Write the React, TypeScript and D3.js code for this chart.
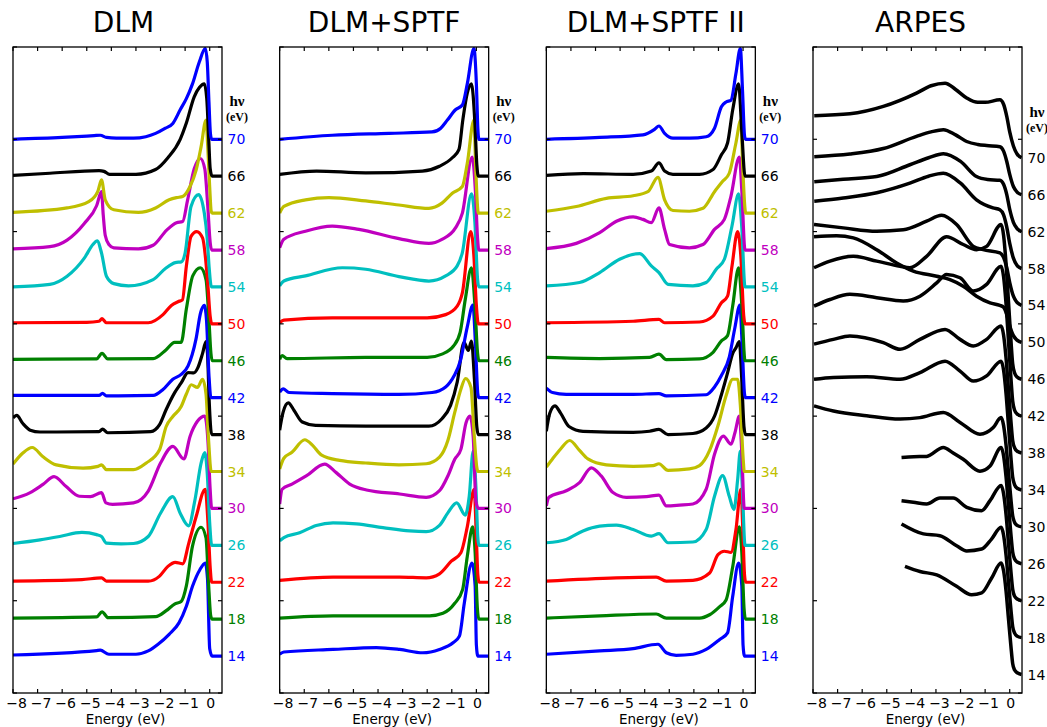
import { scaleLinear, line, curveMonotoneX } from "d3";

type Pt = [number, number];

// photon energies, top curve first
const HV = [70, 66, 62, 58, 54, 50, 46, 42, 38, 34, 30, 26, 22, 18, 14];
const CURVE_COLORS = [
  "#0000ff", "#000000", "#bfbf00", "#bf00bf", "#00bfbf", "#ff0000", "#008000",
  "#0000ff", "#000000", "#bfbf00", "#bf00bf", "#00bfbf", "#ff0000", "#008000", "#0000ff",
];
const SIM_OFFSETS = [15, 14, 13, 12, 11, 10, 9, 8, 7, 6, 5, 4, 3, 2, 1];
const ARPES_OFFSETS = [14.5, 13.5, 12.5, 11.5, 10.5, 9.5, 8.5, 7.5, 6.5, 5.5, 4.5, 3.5, 2.5, 1.5, 0.5];
const X_TICKS = [-8, -7, -6, -5, -4, -3, -2, -1, 0];
const Y_TICKS = [0, 2.5, 5, 7.5, 10, 12.5, 15, 17.5];
const TITLES = ["DLM", "DLM+SPTF", "DLM+SPTF II", "ARPES"];

// ---------- DLM ----------
const DLM_70: Pt[] = [[-8,0],[-6,0.05],[-4.7,0.1],[-4.45,0.11],[-4.2,0.05],[-3.8,0.03],[-3.1,0.03],[-2.6,0.07],[-2.2,0.16],[-1.8,0.3],[-1.5,0.43],[-1.2,0.8],[-0.95,1.1],[-0.7,1.5],[-0.42,2.1],[-0.18,2.46],[-0.1,2.1],[-0.03,1.0],[0.03,0.15],[0.08,0],[0.5,0]];
const DLM_66: Pt[] = [[-8,0.02],[-6.5,0.08],[-4.5,0.15],[-4.3,0.13],[-4.07,0.05],[-3,0.05],[-2.2,0.18],[-1.7,0.5],[-1.2,1.0],[-0.95,1.44],[-0.63,2.15],[-0.42,2.4],[-0.22,2.5],[-0.12,2.1],[-0.04,1.0],[0.02,0.2],[0.1,0],[0.5,0]];
const DLM_62: Pt[] = [[-8,0.02],[-5.8,0.14],[-4.9,0.32],[-4.55,0.59],[-4.4,0.9],[-4.25,0.36],[-3.9,0.09],[-2.9,0.02],[-2.2,0.14],[-1.65,0.36],[-1.35,0.42],[-1.1,0.45],[-0.8,0.72],[-0.55,1.17],[-0.35,1.8],[-0.15,2.52],[-0.08,1.8],[0.0,0.7],[0.06,0.05],[0.1,0],[0.5,0]];
const DLM_58: Pt[] = [[-8,0.03],[-6.5,0.09],[-5.8,0.27],[-5.1,0.72],[-4.6,1.2],[-4.4,1.58],[-4.33,0.95],[-4.25,0.4],[-4.1,0.15],[-3.9,0.06],[-2.9,0.03],[-2.3,0.13],[-1.75,0.54],[-1.35,0.74],[-1.1,0.77],[-0.9,1.35],[-0.63,2.2],[-0.38,2.48],[-0.2,2.2],[-0.08,1.2],[0.02,0.2],[0.08,0],[0.5,0]];
const DLM_54: Pt[] = [[-8,0],[-6.5,0.07],[-5.8,0.29],[-5.1,0.78],[-4.75,1.15],[-4.58,1.25],[-4.4,0.92],[-4.2,0.29],[-3.9,0.09],[-3.3,0.03],[-2.3,0.2],[-1.8,0.5],[-1.4,0.66],[-1.15,0.68],[-1.0,0.92],[-0.76,2.18],[-0.45,2.5],[-0.22,2.0],[-0.1,1.3],[-0.02,0.5],[0.07,0],[0.5,0]];
const DLM_50: Pt[] = [[-8,0.03],[-5,0.04],[-4.5,0.07],[-4.38,0.14],[-4.2,0.03],[-2.5,0.03],[-1.9,0.25],[-1.56,0.5],[-1.29,0.6],[-1.11,0.65],[-0.95,1.56],[-0.76,2.37],[-0.53,2.5],[-0.29,2.33],[-0.09,1.2],[0.02,0.2],[0.08,0],[0.5,0]];
const DLM_46: Pt[] = [[-8,0.04],[-4.6,0.05],[-4.38,0.2],[-4.15,0.05],[-2.3,0.06],[-1.77,0.3],[-1.43,0.5],[-1.16,0.5],[-0.95,1.4],[-0.69,2.3],[-0.38,2.52],[-0.15,2.2],[-0.03,1.1],[0.05,0.2],[0.1,0],[0.5,0]];
const DLM_42: Pt[] = [[-8,0.06],[-4.5,0.06],[-4.36,0.12],[-4.2,0.05],[-2.3,0.06],[-1.9,0.22],[-1.5,0.5],[-1.16,0.63],[-0.88,0.86],[-0.56,1.58],[-0.37,2.3],[-0.22,2.5],[-0.13,2.1],[-0.03,0.6],[0.05,0],[0.5,0]];
const DLM_38: Pt[] = [[-8,0.45],[-7.85,0.52],[-7.6,0.3],[-7.3,0.12],[-6.9,0.07],[-4.5,0.08],[-4.36,0.15],[-4.15,0.05],[-2.4,0.08],[-2.04,0.27],[-1.77,0.68],[-1.43,1.13],[-1.16,1.4],[-0.88,1.68],[-0.65,1.67],[-0.49,1.8],[-0.29,2.2],[-0.15,2.52],[-0.09,2.2],[-0.02,0.9],[0.08,0],[0.5,0]];
const DLM_34: Pt[] = [[-8,0.2],[-7.6,0.5],[-7.22,0.65],[-6.78,0.4],[-6.24,0.18],[-5.15,0.09],[-4.54,0.14],[-4.4,0.18],[-4.2,0.05],[-3.1,0.05],[-2.58,0.23],[-2.04,0.59],[-1.77,1.22],[-1.5,1.49],[-1.16,1.76],[-0.95,2.1],[-0.75,2.35],[-0.5,2.28],[-0.29,2.5],[-0.15,2.1],[-0.05,0.9],[0.06,0],[0.5,0]];
const DLM_30: Pt[] = [[-8,0.26],[-7.32,0.42],[-6.78,0.65],[-6.33,0.86],[-5.85,0.6],[-5.3,0.33],[-4.85,0.32],[-4.4,0.43],[-4.22,0.15],[-3.95,0.11],[-3.1,0.15],[-2.5,0.47],[-2.0,1.23],[-1.5,1.68],[-1.05,1.34],[-0.8,1.95],[-0.5,2.36],[-0.2,2.5],[-0.07,1.8],[0.02,0.5],[0.08,0],[0.5,0]];
const DLM_26: Pt[] = [[-8,0.05],[-6.9,0.15],[-6.1,0.24],[-5.2,0.35],[-4.6,0.29],[-4.4,0.24],[-4.2,0.06],[-3.6,0.04],[-3.1,0.05],[-2.5,0.24],[-2.0,0.87],[-1.5,1.32],[-1.2,0.87],[-0.86,0.53],[-0.6,1.23],[-0.35,2.23],[-0.2,2.51],[-0.1,1.95],[0.0,0.6],[0.08,0],[0.5,0]];
const DLM_22: Pt[] = [[-8,0.03],[-5.2,0.07],[-4.4,0.12],[-4.2,0.03],[-2.5,0.03],[-2.05,0.16],[-1.7,0.43],[-1.4,0.54],[-1.1,0.5],[-0.85,1.06],[-0.55,1.78],[-0.18,2.52],[-0.07,1.6],[0.02,0.4],[0.08,0],[0.5,0]];
const DLM_18: Pt[] = [[-8,0.03],[-4.6,0.06],[-4.38,0.2],[-4.13,0.04],[-2.2,0.07],[-1.77,0.23],[-1.43,0.41],[-1.16,0.48],[-0.95,0.9],[-0.7,1.98],[-0.35,2.49],[-0.15,2.2],[-0.05,1.0],[0.04,0.1],[0.1,0],[0.5,0]];
const DLM_14: Pt[] = [[-8,0.03],[-4.6,0.15],[-4.45,0.16],[-4.1,0.05],[-3,0.05],[-2.5,0.14],[-2.1,0.32],[-1.65,0.59],[-1.25,0.9],[-0.95,1.35],[-0.7,1.89],[-0.4,2.34],[-0.18,2.52],[-0.09,2.1],[0.0,0.2],[0.1,0],[0.5,0]];

// ---------- DLM+SPTF ----------
const SPTF_70: Pt[] = [[-8,0],[-5.86,0.11],[-3.55,0.16],[-1.8,0.2],[-1.45,0.3],[-1.18,0.52],[-0.85,0.8],[-0.57,0.93],[-0.37,1.5],[-0.1,2.46],[0.0,1.5],[0.06,0.3],[0.1,0],[0.5,0]];
const SPTF_66: Pt[] = [[-8,0.05],[-6.5,0.14],[-4.5,0.09],[-2.2,0.14],[-1.5,0.27],[-0.98,0.5],[-0.71,0.72],[-0.55,1.53],[-0.37,2.25],[-0.2,2.5],[-0.06,1.44],[0.02,0.3],[0.08,0],[0.5,0]];
const SPTF_62: Pt[] = [[-8,0],[-7.83,0.18],[-6.95,0.36],[-6.0,0.42],[-4.5,0.33],[-3.15,0.22],[-1.93,0.13],[-1.4,0.27],[-0.98,0.54],[-0.57,0.72],[-0.37,1.35],[-0.1,2.52],[-0.02,1.1],[0.08,0],[0.5,0]];
const SPTF_58: Pt[] = [[-8,0.06],[-7.83,0.29],[-6.95,0.51],[-5.86,0.65],[-4.78,0.56],[-3.15,0.31],[-1.93,0.18],[-1.4,0.29],[-0.85,0.6],[-0.57,1.0],[-0.17,2.52],[-0.04,1.6],[0.05,0.3],[0.1,0],[0.5,0]];
const SPTF_54: Pt[] = [[-8,0.03],[-7.83,0.16],[-6.95,0.3],[-5.45,0.52],[-4.5,0.48],[-3.15,0.28],[-1.93,0.16],[-1.25,0.3],[-0.78,0.57],[-0.57,0.93],[-0.2,2.52],[-0.06,1.75],[0.05,0.2],[0.1,0],[0.5,0]];
const SPTF_50: Pt[] = [[-8,0.03],[-7.83,0.1],[-5.86,0.16],[-2,0.16],[-1.25,0.25],[-0.78,0.48],[-0.57,0.84],[-0.23,2.5],[-0.1,1.83],[0.0,0.5],[0.08,0],[0.5,0]];
const SPTF_46: Pt[] = [[-8,0.04],[-7.9,0.14],[-7.7,0.06],[-4.5,0.09],[-2,0.09],[-1.4,0.18],[-0.93,0.4],[-0.66,0.77],[-0.45,1.67],[-0.2,2.52],[-0.06,1.5],[0.05,0.2],[0.1,0],[0.5,0]];
const SPTF_42: Pt[] = [[-8,0.15],[-7.86,0.24],[-7.62,0.14],[-5.86,0.11],[-3.15,0.09],[-1.8,0.14],[-1.25,0.29],[-0.9,0.6],[-0.65,1.0],[-0.37,1.92],[-0.14,2.51],[-0.04,1.5],[0.06,0.1],[0.1,0],[0.5,0]];
const SPTF_38: Pt[] = [[-8,0.12],[-7.86,0.61],[-7.65,0.86],[-7.42,0.66],[-7.08,0.34],[-6.54,0.25],[-4.5,0.23],[-1.93,0.23],[-1.4,0.43],[-1.05,0.79],[-0.78,1.42],[-0.5,2.5],[-0.33,2.28],[-0.2,2.53],[-0.08,1.5],[0.02,0.2],[0.08,0],[0.5,0]];
const SPTF_34: Pt[] = [[-8,0.07],[-7.83,0.36],[-7.5,0.52],[-6.98,0.86],[-6.65,0.7],[-6.31,0.45],[-5.56,0.3],[-4.5,0.23],[-3.15,0.18],[-2.04,0.21],[-1.5,0.39],[-1.16,0.84],[-0.88,1.6],[-0.63,2.23],[-0.44,2.52],[-0.22,2.28],[-0.09,1.0],[0.02,0.1],[0.06,0],[0.5,0]];
const SPTF_30: Pt[] = [[-8,0.12],[-7.9,0.52],[-7.5,0.66],[-6.92,0.88],[-6.17,1.2],[-5.7,0.97],[-5.15,0.66],[-4.47,0.5],[-3.12,0.39],[-2.04,0.3],[-1.5,0.48],[-1.16,0.88],[-0.88,1.33],[-0.63,1.6],[-0.42,2.32],[-0.26,2.5],[-0.13,1.95],[-0.02,0.2],[0.08,0],[0.5,0]];
const SPTF_26: Pt[] = [[-8,0.12],[-7.83,0.21],[-7.19,0.34],[-6.51,0.54],[-5.83,0.61],[-4.88,0.58],[-3.8,0.48],[-2.72,0.39],[-2.04,0.37],[-1.5,0.54],[-1.16,0.88],[-0.8,1.15],[-0.45,0.82],[-0.29,1.33],[-0.13,2.55],[-0.02,1.6],[0.06,0.2],[0.1,0],[0.5,0]];
const SPTF_22: Pt[] = [[-8,0.05],[-5.83,0.14],[-3.12,0.14],[-2.04,0.12],[-1.5,0.23],[-1.02,0.57],[-0.63,0.8],[-0.37,1.5],[-0.09,2.52],[0.0,1.2],[0.06,0.2],[0.11,0],[0.5,0]];
const SPTF_18: Pt[] = [[-8,0.03],[-5.83,0.09],[-1.9,0.09],[-1.36,0.16],[-0.88,0.43],[-0.56,0.8],[-0.37,1.7],[-0.15,2.5],[-0.05,1.8],[0.04,0.3],[0.1,0],[0.5,0]];
const SPTF_14: Pt[] = [[-8,0.05],[-7.83,0.11],[-5.83,0.18],[-4.07,0.23],[-3.12,0.18],[-2.18,0.09],[-1.5,0.18],[-0.95,0.36],[-0.69,0.54],[-0.49,1.44],[-0.18,2.52],[-0.05,1.9],[0.0,0.3],[0.06,0],[0.5,0]];

// ---------- DLM+SPTF II ----------
const II_70: Pt[] = [[-8,0],[-5.83,0.05],[-4.07,0.12],[-3.6,0.27],[-3.42,0.36],[-3.19,0.16],[-2.85,0.03],[-2.18,0.03],[-1.5,0.07],[-1.16,0.3],[-0.88,0.88],[-0.69,1.01],[-0.49,1.06],[-0.29,1.78],[-0.11,2.46],[-0.02,1.3],[0.06,0.1],[0.1,0],[0.5,0]];
const II_66: Pt[] = [[-8,0.02],[-6.5,0.07],[-4.47,0.05],[-3.73,0.14],[-3.42,0.36],[-3.19,0.14],[-2.85,0.05],[-1.77,0.05],[-1.22,0.18],[-0.88,0.58],[-0.63,0.9],[-0.42,1.8],[-0.18,2.5],[-0.05,1.2],[0.08,0],[0.5,0]];
const II_62: Pt[] = [[-8,0.05],[-6.78,0.18],[-5.56,0.4],[-4.47,0.47],[-3.87,0.58],[-3.46,0.97],[-3.19,0.36],[-2.85,0.07],[-2.18,0.05],[-1.63,0.13],[-1.16,0.58],[-0.83,0.86],[-0.56,1.08],[-0.29,1.9],[-0.09,2.52],[-0.01,1.2],[0.11,0],[0.5,0]];
const II_58: Pt[] = [[-8,0.04],[-6.78,0.18],[-5.83,0.47],[-5.15,0.78],[-4.47,0.9],[-4.07,0.83],[-3.73,0.74],[-3.42,1.14],[-3.19,0.56],[-2.99,0.15],[-2.18,0.06],[-1.63,0.15],[-1.16,0.56],[-0.76,0.83],[-0.49,1.46],[-0.15,2.52],[-0.05,1.6],[0.08,0],[0.5,0]];
const II_54: Pt[] = [[-8,0.03],[-6.65,0.12],[-5.83,0.39],[-5.02,0.75],[-4.2,0.9],[-3.73,0.57],[-3.42,0.39],[-3.05,0.07],[-2.04,0.03],[-1.5,0.12],[-1.09,0.48],[-0.76,0.75],[-0.45,1.65],[-0.18,2.52],[-0.05,1.6],[0.08,0],[0.5,0]];
const II_50: Pt[] = [[-8,0.03],[-4.47,0.07],[-3.42,0.12],[-3.19,0.03],[-1.77,0.05],[-1.22,0.21],[-0.88,0.57],[-0.63,0.75],[-0.45,1.56],[-0.22,2.5],[-0.09,1.83],[0.03,0.2],[0.08,0],[0.5,0]];
const II_46: Pt[] = [[-8,0.09],[-5.83,0.06],[-3.8,0.09],[-3.42,0.18],[-3.12,0.03],[-1.77,0.05],[-1.22,0.23],[-0.88,0.54],[-0.63,0.68],[-0.42,1.49],[-0.18,2.52],[-0.05,1.5],[0.08,0],[0.5,0]];
const II_42: Pt[] = [[-8,0.26],[-7.75,0.14],[-7.19,0.09],[-4.47,0.09],[-3.42,0.11],[-3.12,0.05],[-1.5,0.08],[-1.16,0.29],[-0.88,0.6],[-0.56,1.1],[-0.33,1.9],[-0.13,2.51],[-0.04,1.5],[0.06,0.1],[0.1,0],[0.5,0]];
const II_38: Pt[] = [[-8,0.09],[-7.86,0.58],[-7.65,0.78],[-7.42,0.58],[-7.08,0.22],[-6.51,0.09],[-4.47,0.06],[-3.8,0.09],[-3.42,0.14],[-3.05,0.0],[-2.04,0.03],[-1.5,0.18],[-1.16,0.5],[-0.88,1.08],[-0.63,1.67],[-0.42,2.2],[-0.29,2.35],[-0.15,2.52],[-0.06,1.6],[0.04,0.2],[0.1,0],[0.5,0]];
const II_34: Pt[] = [[-8,0.12],[-7.75,0.34],[-7.42,0.61],[-7.05,0.84],[-6.65,0.57],[-6.31,0.34],[-5.56,0.18],[-4.47,0.14],[-3.66,0.16],[-3.42,0.21],[-3.05,0.03],[-2.18,0.07],[-1.77,0.16],[-1.36,0.57],[-1.02,1.24],[-0.69,2.05],[-0.42,2.5],[-0.22,2.5],[-0.11,1.8],[0.0,0.4],[0.05,0],[0.5,0]];
const II_30: Pt[] = [[-8,0.07],[-7.9,0.3],[-7.19,0.48],[-6.65,0.7],[-6.17,1.1],[-5.77,0.88],[-5.29,0.43],[-4.75,0.3],[-3.93,0.32],[-3.42,0.36],[-3.12,0.07],[-2.58,0.09],[-2.04,0.12],[-1.5,0.52],[-1.16,1.47],[-0.8,1.96],[-0.49,1.74],[-0.33,2.05],[-0.15,2.5],[-0.05,1.5],[0.05,0],[0.5,0]];
const II_26: Pt[] = [[-8,0.07],[-7.19,0.16],[-6.51,0.39],[-5.83,0.52],[-5.15,0.55],[-4.47,0.43],[-3.73,0.25],[-3.42,0.32],[-3.05,0.07],[-2.04,0.09],[-1.5,0.43],[-1.16,1.33],[-0.83,1.89],[-0.56,1.33],[-0.37,0.97],[-0.22,1.78],[-0.11,2.55],[-0.02,1.4],[0.08,0],[0.5,0]];
const II_22: Pt[] = [[-8,0.03],[-5.15,0.12],[-3.53,0.14],[-3.12,0.03],[-2.04,0.05],[-1.36,0.25],[-1.02,0.75],[-0.76,0.84],[-0.49,0.81],[-0.29,1.42],[-0.09,2.52],[0.0,1.25],[0.06,0.2],[0.11,0],[0.5,0]];
const II_18: Pt[] = [[-8,0.03],[-5.83,0.09],[-3.53,0.14],[-3.12,0.03],[-1.77,0.03],[-1.36,0.12],[-0.95,0.34],[-0.69,0.52],[-0.42,1.42],[-0.15,2.5],[-0.05,1.8],[0.04,0.3],[0.1,0],[0.5,0]];
const II_14: Pt[] = [[-8,0.05],[-5.83,0.14],[-4.47,0.2],[-3.46,0.32],[-3.12,0.09],[-2.72,0.02],[-2.04,0.05],[-1.5,0.18],[-0.95,0.45],[-0.63,0.63],[-0.42,1.62],[-0.18,2.52],[-0.05,1.9],[0.0,0.3],[0.06,0],[0.5,0]];

// ---------- ARPES (relative to the value at 0.5 eV) ----------
const ARPES_70: Pt[] = [[-7.95,1.14],[-6.5,1.19],[-5.14,1.39],[-3.79,1.75],[-3.2,1.95],[-2.63,2.02],[-2.2,1.85],[-1.75,1.62],[-1.3,1.5],[-1.0,1.5],[-0.4,1.57],[-0.25,1.45],[-0.12,1.12],[0.0,0.7],[0.15,0.32],[0.3,0.1],[0.48,0]];
const ARPES_66: Pt[] = [[-7.95,1.03],[-6.5,1.1],[-5.14,1.25],[-3.79,1.58],[-3.2,1.7],[-2.7,1.76],[-2.2,1.62],[-1.75,1.44],[-1.3,1.36],[-0.94,1.33],[-0.4,1.3],[-0.25,1.18],[-0.12,0.9],[0.0,0.55],[0.15,0.22],[0.3,0.07],[0.48,0]];
const ARPES_62: Pt[] = [[-7.95,1.35],[-6.77,1.42],[-5.41,1.49],[-4.06,1.81],[-3.3,2.0],[-2.7,2.11],[-2.0,1.9],[-1.35,1.49],[-0.9,1.41],[-0.4,1.39],[-0.25,1.28],[-0.12,1.0],[0.0,0.6],[0.15,0.25],[0.3,0.08],[0.48,0]];
const ARPES_58: Pt[] = [[-7.95,1.82],[-6.77,1.91],[-5.41,2.05],[-4.06,2.31],[-3.3,2.5],[-2.7,2.58],[-2.0,2.31],[-1.35,1.86],[-0.68,1.64],[-0.4,1.59],[-0.25,1.45],[-0.12,1.12],[0.0,0.68],[0.15,0.28],[0.3,0.08],[0.48,0]];
const ARPES_54: Pt[] = [[-7.96,2.19],[-6.77,2.1],[-5.41,2.01],[-4.33,2.05],[-3.38,2.28],[-2.77,2.44],[-2.16,2.19],[-1.48,1.6],[-1.08,1.51],[-0.4,1.42],[-0.25,1.3],[-0.12,1.02],[0.0,0.62],[0.15,0.25],[0.3,0.08],[0.48,0]];
const ARPES_50: Pt[] = [[-7.96,2.86],[-7.04,2.89],[-6.36,2.83],[-5.41,2.51],[-4.6,2.15],[-3.92,1.93],[-2.97,1.79],[-2.43,1.7],[-1.89,1.52],[-1.35,1.25],[-0.8,1.07],[-0.4,1.0],[-0.25,0.95],[-0.12,0.75],[0.0,0.45],[0.15,0.18],[0.3,0.06],[0.48,0]];
const ARPES_46: Pt[] = [[-7.96,3.02],[-7.31,3.2],[-6.36,3.33],[-5.41,3.2],[-4.46,3.06],[-4.06,3.02],[-3.38,3.33],[-2.57,3.86],[-1.89,3.65],[-1.35,3.51],[-0.94,3.6],[-0.35,4.19],[-0.25,3.9],[-0.15,3.14],[-0.05,2.1],[0.05,1.05],[0.12,0.42],[0.2,0.17],[0.3,0.06],[0.48,0]];
const ARPES_42: Pt[] = [[-7.96,2.98],[-7.31,3.16],[-6.5,3.3],[-5.41,3.21],[-4.33,3.12],[-3.65,3.25],[-2.97,3.61],[-2.57,3.84],[-2.02,3.75],[-1.48,3.39],[-0.94,3.57],[-0.35,4.06],[-0.25,3.78],[-0.15,3.05],[-0.05,2.03],[0.05,1.02],[0.12,0.41],[0.2,0.16],[0.3,0.06],[0.48,0]];
const ARPES_38: Pt[] = [[-7.96,2.95],[-7.17,3.08],[-6.5,3.17],[-5.14,2.99],[-4.46,2.81],[-3.65,3.08],[-2.63,3.35],[-2.02,3.08],[-1.48,2.9],[-0.94,3.08],[-0.35,3.44],[-0.25,3.2],[-0.15,2.58],[-0.05,1.72],[0.05,0.86],[0.12,0.34],[0.2,0.14],[0.3,0.05],[0.48,0]];
const ARPES_34: Pt[] = [[-7.96,3.0],[-7.17,3.05],[-5.82,3.07],[-4.46,3.0],[-3.65,3.18],[-2.63,3.49],[-2.02,3.22],[-1.48,2.95],[-0.94,3.09],[-0.35,3.49],[-0.25,3.25],[-0.15,2.62],[-0.05,1.75],[0.05,0.87],[0.12,0.35],[0.2,0.14],[0.3,0.05],[0.48,0]];
const ARPES_30: Pt[] = [[-7.96,3.28],[-7.17,3.14],[-5.82,3.01],[-4.46,2.92],[-3.65,2.96],[-2.7,3.1],[-2.02,2.83],[-1.21,2.51],[-0.67,2.69],[-0.35,2.96],[-0.25,2.75],[-0.15,2.22],[-0.05,1.48],[0.05,0.74],[0.12,0.3],[0.2,0.12],[0.3,0.04],[0.48,0]];
const ARPES_26: Pt[] = [[-4.4,2.88],[-3.9,2.9],[-3.38,2.91],[-2.7,3.15],[-2.3,3.0],[-1.89,2.83],[-1.21,2.51],[-0.8,2.65],[-0.35,3.15],[-0.25,2.93],[-0.15,2.36],[-0.05,1.58],[0.05,0.79],[0.12,0.32],[0.2,0.13],[0.3,0.05],[0.48,0]];
const ARPES_22: Pt[] = [[-4.4,2.71],[-3.92,2.67],[-3.38,2.62],[-2.84,2.78],[-2.3,2.78],[-1.75,2.53],[-1.14,2.44],[-0.8,2.71],[-0.35,3.12],[-0.25,2.9],[-0.15,2.34],[-0.05,1.56],[0.05,0.78],[0.12,0.31],[0.2,0.12],[0.3,0.05],[0.48,0]];
const ARPES_18: Pt[] = [[-4.4,3.08],[-3.51,2.81],[-2.84,2.76],[-2.16,2.49],[-1.75,2.35],[-1.14,2.4],[-0.74,2.67],[-0.35,2.99],[-0.25,2.78],[-0.15,2.24],[-0.05,1.5],[0.05,0.75],[0.12,0.3],[0.2,0.12],[0.3,0.04],[0.48,0]];
const ARPES_14: Pt[] = [[-4.26,2.93],[-3.65,2.79],[-2.97,2.7],[-2.16,2.39],[-1.55,2.16],[-1.14,2.21],[-0.74,2.61],[-0.35,3.02],[-0.25,2.81],[-0.15,2.27],[-0.05,1.51],[0.05,0.76],[0.12,0.3],[0.2,0.12],[0.3,0.05],[0.48,0]];

const DLM = [DLM_70, DLM_66, DLM_62, DLM_58, DLM_54, DLM_50, DLM_46, DLM_42, DLM_38, DLM_34, DLM_30, DLM_26, DLM_22, DLM_18, DLM_14];
const SPTF = [SPTF_70, SPTF_66, SPTF_62, SPTF_58, SPTF_54, SPTF_50, SPTF_46, SPTF_42, SPTF_38, SPTF_34, SPTF_30, SPTF_26, SPTF_22, SPTF_18, SPTF_14];
const SPTF_II = [II_70, II_66, II_62, II_58, II_54, II_50, II_46, II_42, II_38, II_34, II_30, II_26, II_22, II_18, II_14];
const ARPES = [ARPES_70, ARPES_66, ARPES_62, ARPES_58, ARPES_54, ARPES_50, ARPES_46, ARPES_42, ARPES_38, ARPES_34, ARPES_30, ARPES_26, ARPES_22, ARPES_18, ARPES_14];

const W = 1047;
const H = 727;
const PANEL_W = 209;
const TOP = 47;
const BOTTOM = 693;
const FONT = "'DejaVu Sans', sans-serif";
const SERIF = "'Liberation Serif', 'DejaVu Serif', serif";

const fmtTick = (d: number) => (d < 0 ? `\u2212${Math.abs(d)}` : `${d}`);

interface PanelProps {
  index: number;
  title: string;
  titleShift: number;
  series: Pt[][];
  offsets: number[];
  colors: string[];
  labelColors: string[];
  hvY: number;
  lineWidth: number;
}

function Panel({ index, title, titleShift, series, offsets, colors, labelColors, hvY, lineWidth }: PanelProps) {
  const left = 13 + index * 266.67;
  const right = left + PANEL_W;
  const x = scaleLinear().domain([-8, 0.5]).range([left, right]);
  const y = scaleLinear().domain([0, 17.5]).range([BOTTOM, TOP]);
  const clipId = `clip-panel-${index}`;

  // draw bottom curve first
  const order = series.map((_, i) => i).reverse();

  return (
    <g>
      <defs>
        <clipPath id={clipId}>
          <rect x={left} y={TOP} width={PANEL_W} height={BOTTOM - TOP} />
        </clipPath>
      </defs>

      <text x={(left + right) / 2 + titleShift} y={32} fontSize={28} textAnchor="middle" fontFamily={FONT}>
        {title}
      </text>

      <g clipPath={`url(#${clipId})`}>
        {order.map((i) => {
          const off = offsets[i];
          const gen = line<Pt>()
            .x((d) => x(d[0]))
            .y((d) => y(off + d[1]))
            .curve(curveMonotoneX);
          return (
            <path
              key={i}
              d={gen(series[i]) ?? ""}
              fill="none"
              stroke={colors[i]}
              strokeWidth={lineWidth}
              strokeLinejoin="round"
            />
          );
        })}
      </g>

      {/* frame */}
      <rect x={left} y={TOP} width={PANEL_W} height={BOTTOM - TOP} fill="none" stroke="#000" strokeWidth={1.3} />

      {/* x ticks, inward, top and bottom */}
      {X_TICKS.map((t) => (
        <g key={`xt${t}`}>
          <line x1={x(t)} x2={x(t)} y1={BOTTOM} y2={BOTTOM - 4} stroke="#000" strokeWidth={1.2} />
          <line x1={x(t)} x2={x(t)} y1={TOP} y2={TOP + 4} stroke="#000" strokeWidth={1.2} />
          <text
            x={x(t) + (t < 0 ? 3.5 : 1)}
            y={BOTTOM + 14.5}
            fontSize={14}
            textAnchor="middle"
            fontFamily={FONT}
          >
            {fmtTick(t)}
          </text>
        </g>
      ))}

      {/* y ticks, inward, left and right */}
      {Y_TICKS.map((t) => (
        <g key={`yt${t}`}>
          <line x1={left} x2={left + 4} y1={y(t)} y2={y(t)} stroke="#000" strokeWidth={1.2} />
          <line x1={right} x2={right - 4} y1={y(t)} y2={y(t)} stroke="#000" strokeWidth={1.2} />
        </g>
      ))}

      <text x={(left + right) / 2 + 8} y={723.6} fontSize={13.5} textAnchor="middle" fontFamily={FONT}>
        Energy (eV)
      </text>

      {/* photon energy labels */}
      <text x={right + 15} y={hvY} fontSize={15} textAnchor="middle" fontWeight="bold" fontFamily={SERIF}>
        hν
      </text>
      <text x={right + 15} y={hvY + 15} fontSize={12} textAnchor="middle" fontWeight="bold" fontFamily={SERIF}>
        (eV)
      </text>
      {HV.map((hv, i) => (
        <text
          key={`hv${hv}`}
          x={right + 5.5}
          y={y(offsets[i])}
          dy="0.36em"
          fontSize={14}
          fill={labelColors[i]}
          fontFamily={FONT}
        >
          {hv}
        </text>
      ))}
    </g>
  );
}

export default function App() {
  const black = HV.map(() => "#000000");
  return (
    <svg
      width={W}
      height={H}
      viewBox={`0 0 ${W} ${H}`}
      style={{ position: "absolute", left: 0, top: 0, background: "#fff" }}
    >
      <rect width={W} height={H} fill="#fff" />
      <Panel index={0} title={TITLES[0]} titleShift={6} series={DLM} offsets={SIM_OFFSETS} colors={CURVE_COLORS} labelColors={CURVE_COLORS} hvY={106} lineWidth={3.2} />
      <Panel index={1} title={TITLES[1]} titleShift={0} series={SPTF} offsets={SIM_OFFSETS} colors={CURVE_COLORS} labelColors={CURVE_COLORS} hvY={106} lineWidth={3.2} />
      <Panel index={2} title={TITLES[2]} titleShift={5} series={SPTF_II} offsets={SIM_OFFSETS} colors={CURVE_COLORS} labelColors={CURVE_COLORS} hvY={106} lineWidth={3.2} />
      <Panel index={3} title={TITLES[3]} titleShift={3} series={ARPES} offsets={ARPES_OFFSETS} colors={black} labelColors={black} hvY={117} lineWidth={3.5} />
    </svg>
  );
}
